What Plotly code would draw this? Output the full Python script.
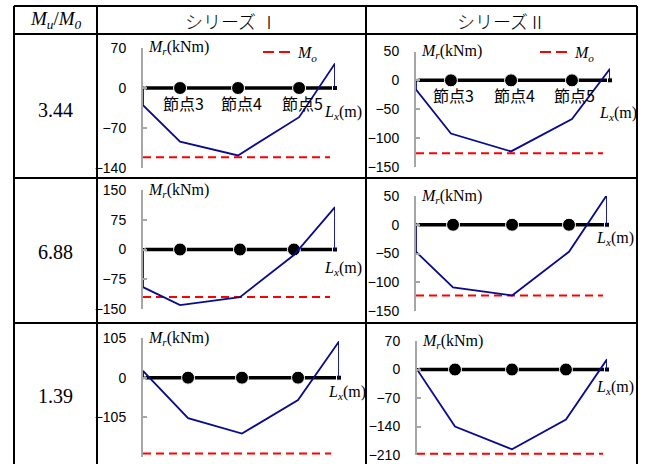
import plotly.graph_objects as go

W, H = 648, 464

# ---------------- data ----------------
row_labels = ["3.44", "6.88", "1.39"]
col_labels = ["シリーズ Ⅰ", "シリーズⅡ"]
node_names = ["節点3", "節点4", "節点5"]

# panel order: row1-I, row1-II, row2-I, row2-II, row3-I, row3-II
span_start = 0
span_end = 10
node_x = [
    [1.93, 4.95, 8.13],
    [1.80, 4.90, 8.04],
    [1.93, 5.05, 7.86],
    [1.94, 5.03, 8.01],
    [2.30, 5.05, 7.91],
    [2.00, 5.00, 7.84],
]
mr_start = [-30, -16, -95, -47, 18, 0]
mr_nodes = [
    [-94, -118, -51],
    [-92, -123, -67],
    [-140, -120, -14],
    [-109, -123, -47],
    [-107, -148, -59],
    [-140, -196, -123],
]
mr_end = [43, 20, 107, 52, 96, 25]
mo_value = [-121, -126, -120, -123, -201, -207]
mo_extent = [9.74, 9.64, 9.74, 9.79, 9.60, 9.79]
y_ticks = [
    [70, 0, -70, -140],
    [50, 0, -50, -100, -150],
    [150, 75, 0, -75, -150],
    [50, 0, -50, -100, -150],
    [105, 0, -105, -210],
    [70, 0, -70, -140, -210],
]

# ---------------- layout geometry (pixels) ----------------
boxes = [  # x0, x1, ytop, ybottom
    (143, 335, 48, 168),
    (416, 610, 51.5, 167),
    (143, 335, 190, 309),
    (416, 607, 196, 311),
    (143, 339, 338, 457),
    (417, 607, 341, 455),
]
lx_dy = [24, 33, 19, 14, 15, 18]

def fx(px):
    return px / W

def fy(py):
    return 1 - py / H

BLUE = "#0a0a8c"
RED = "#ff0000"
GRAY = "#a6a6a6"
SERIF = "Liberation Serif, Times New Roman, serif"
SANS = "Liberation Sans, Arial, sans-serif"
CJK = "Noto Sans CJK JP"

fig = go.Figure()
layout = dict(
    width=W, height=H,
    margin=dict(l=0, r=0, t=0, b=0, autoexpand=False),
    paper_bgcolor="white", plot_bgcolor="rgba(0,0,0,0)",
    showlegend=True,
)
annotations = []
shapes = []

for k in range(6):
    ax = "" if k == 0 else str(k + 1)
    xa, ya = "x" + ax, "y" + ax
    x0, x1, yt, yb = boxes[k]
    ticks = y_ticks[k]
    layout["xaxis" + ax] = dict(
        domain=[fx(x0), fx(x1)], range=[span_start, span_end],
        visible=False, anchor=ya, fixedrange=True, automargin=False,
    )
    layout["yaxis" + ax] = dict(
        domain=[fy(yb), fy(yt)], range=[min(ticks), max(ticks)],
        anchor=xa, tickvals=ticks, showgrid=False, zeroline=False,
        showline=True, linecolor=GRAY, linewidth=2,
        ticks="inside", ticklen=4, tickwidth=1.5, tickcolor=GRAY,
        tickfont=dict(family=SANS, size=14, color="black"),
        ticklabelstandoff=12, fixedrange=True, automargin=False,
    )

    # Mo dashed line
    fig.add_trace(go.Scatter(
        x=[span_start, mo_extent[k]], y=[mo_value[k], mo_value[k]],
        mode="lines", line=dict(color=RED, width=2, dash="8px,5px"),
        xaxis=xa, yaxis=ya, showlegend=False, hoverinfo="skip", cliponaxis=False,
    ))
    # legend entry for Mo (top row only)
    if k < 2:
        fig.add_trace(go.Scatter(
            x=[None], y=[None], mode="lines",
            line=dict(color=RED, width=2, dash="11px,5px"),
            xaxis=xa, yaxis=ya, name="<i>M<sub>o</sub></i>",
            showlegend=True, legend="legend" if k == 0 else "legend2",
            hoverinfo="skip",
        ))

    # member axis with nodes
    bx = [span_start] + node_x[k] + [span_end]
    fig.add_trace(go.Scatter(
        x=bx, y=[0] * len(bx), mode="lines+markers",
        line=dict(color="black", width=3.5),
        marker=dict(color="black", size=[4, 13, 13, 13, 5], opacity=1,
                    symbol=["square", "circle", "circle", "circle", "square"]),
        xaxis=xa, yaxis=ya, showlegend=False, hoverinfo="skip", cliponaxis=False,
    ))

    # Mr diagram
    mx = [span_start, span_start] + node_x[k] + [span_end, span_end]
    my = [0, mr_start[k]] + mr_nodes[k] + [mr_end[k], 0]
    fig.add_trace(go.Scatter(
        x=mx, y=my, mode="lines", line=dict(color=BLUE, width=1.8),
        xaxis=xa, yaxis=ya, showlegend=False, hoverinfo="skip", cliponaxis=False,
    ))

    # Mr axis title
    annotations.append(dict(
        text="<i>M<sub>r</sub></i>(kNm)", xref=xa + " domain", yref=ya + " domain",
        x=0, y=1, xanchor="left", yanchor="middle", xshift=3, yshift=0,
        showarrow=False, font=dict(family=SERIF, size=16, color="black"),
    ))
    # Lx label
    annotations.append(dict(
        text="<i>L<sub>x</sub></i>(m)", xref=xa + " domain", yref=ya,
        x=1, y=0, xanchor="left", yanchor="middle", xshift=-13, yshift=-lx_dy[k],
        showarrow=False, font=dict(family=SERIF, size=16, color="black"),
    ))
    # node labels (top row only)
    if k < 2:
        for nx, nn in zip(node_x[k], node_names):
            annotations.append(dict(
                text=nn, xref=xa, yref=ya, x=nx, y=0, xanchor="center",
                yanchor="middle", xshift=3, yshift=-15, showarrow=False,
                font=dict(family=CJK, size=16, color="black"),
            ))

layout["legend"] = dict(
    x=fx(258), y=fy(52), xanchor="left", yanchor="middle",
    bgcolor="rgba(0,0,0,0)", borderwidth=0,
    font=dict(family=SERIF, size=16, color="black"),
    itemwidth=30,
)
layout["legend2"] = dict(
    x=fx(535), y=fy(52), xanchor="left", yanchor="middle",
    bgcolor="rgba(0,0,0,0)", borderwidth=0,
    font=dict(family=SERIF, size=16, color="black"),
    itemwidth=30,
)

# ---------------- table grid ----------------
vx = [14, 97, 366, 637]
hy = [6, 34, 178, 323]
for px in vx:
    shapes.append(dict(type="line", xref="paper", yref="paper",
                       x0=fx(px), x1=fx(px), y0=fy(hy[0]), y1=fy(H + 5),
                       line=dict(color="black", width=2)))
for py in hy:
    shapes.append(dict(type="line", xref="paper", yref="paper",
                       x0=fx(vx[0]), x1=fx(vx[-1]), y0=fy(py), y1=fy(py),
                       line=dict(color="black", width=2)))

# header texts
annotations.append(dict(
    text="<i>M<sub>u</sub></i>/<i>M<sub>0</sub></i>", xref="paper", yref="paper",
    x=fx((vx[0] + vx[1]) / 2), y=fy(20), xanchor="center", yanchor="middle",
    showarrow=False, font=dict(family=SERIF, size=19, color="black"),
))
for ci, cl in enumerate(col_labels):
    annotations.append(dict(
        text=cl, xref="paper", yref="paper",
        x=fx((vx[ci + 1] + vx[ci + 2]) / 2), y=fy(21), xanchor="center",
        yanchor="middle", showarrow=False,
        font=dict(family=CJK, size=18, color="black", weight=300),
    ))
row_centers = [110, 252, 396]
for rl, rc in zip(row_labels, row_centers):
    annotations.append(dict(
        text=rl, xref="paper", yref="paper",
        x=fx((vx[0] + vx[1]) / 2), y=fy(rc), xanchor="center", yanchor="middle",
        showarrow=False, font=dict(family=SERIF, size=20, color="black"),
    ))

layout["annotations"] = annotations
layout["shapes"] = shapes
fig.update_layout(**layout)

fig.write_html(
    "out.html",
    config={"displayModeBar": False},
    post_script="document.body.style.margin='0';document.body.style.padding='0';",
)
